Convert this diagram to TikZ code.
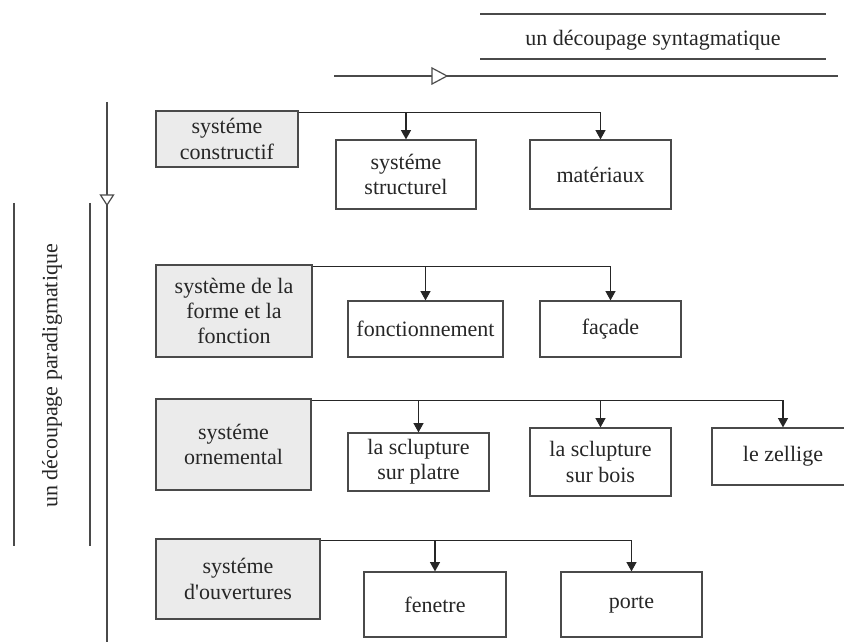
\documentclass[tikz,border=0pt]{standalone}
\usepackage{fontspec}
\setmainfont{Liberation Serif}
\usetikzlibrary{arrows.meta}
\definecolor{linegray}{HTML}{4A4A4A}
\definecolor{boxgray}{HTML}{EBEBEB}
\tikzset{
  sysbox/.style={draw=linegray, fill=boxgray, align=center, inner sep=0pt, line width=0.9pt},
  subbox/.style={draw=linegray, fill=white, align=center, inner sep=0pt, line width=0.9pt},
  link/.style={draw=black!85, line width=0.9pt, -{Triangle[length=7pt,width=7.5pt]}},
  axis/.style={draw=linegray, line width=0.9pt},
}
\begin{document}
\begin{tikzpicture}[x=0.75pt, y=-0.75pt, font=\fontsize{16.5}{19}\selectfont, text=black!85]
\useasboundingbox (0,0) rectangle (844,642);
\clip (0,0) rectangle (844,642);
% syntagmatic axis
\draw[axis] (480,14) -- (826,14);
\draw[axis] (480,59) -- (826,59);
\node (synt) at (653,40) {un découpage syntagmatique};
\draw[axis] (334,76) -- (838,76);
\draw[axis, fill=white] (432,68) -- (447,76) -- (432,84) -- cycle;
% paradigmatic axis
\draw[axis] (107,102) -- (107,642);
\draw[axis, fill=white] (100.5,195) -- (113.5,195) -- (107,205) -- cycle;
\draw[axis] (14,203) -- (14,546);
\draw[axis] (90,203) -- (90,546);
\node[rotate=90] (para) at (52,376) {un découpage paradigmatique};
% systems
\node[sysbox, minimum width=106.5pt, minimum height=42pt] (con) at (227,139) {systéme\\constructif};
\node[sysbox, minimum width=117pt, minimum height=69pt] (forme) at (234,311) {système de la\\forme et la\\fonction};
\node[sysbox, minimum width=116.25pt, minimum height=68.25pt] (orne) at (233.5,444.5) {systéme\\ornemental};
\node[sysbox, minimum width=123pt, minimum height=60pt] (ouv) at (238,579) {systéme\\d\textquotesingle ouvertures};
% sub-systems
\node[subbox, minimum width=105pt, minimum height=51.75pt] (struct) at (406,174.5) {systéme\\structurel};
\node[subbox, minimum width=105.75pt, minimum height=51.75pt] (mat) at (600.5,174.5) {matériaux};
\node[subbox, minimum width=116.25pt, minimum height=42pt] (fonc) at (425.5,329) {fonctionnement};
\node[subbox, minimum width=105.75pt, minimum height=42pt] (fac) at (610.5,329) {façade};
\node[subbox, minimum width=105.75pt, minimum height=43.5pt] (platre) at (418.5,462) {la sclupture\\sur platre};
\node[subbox, minimum width=105.75pt, minimum height=51pt] (bois) at (600.5,462) {la sclupture\\sur bois};
\node[subbox, minimum width=106.5pt, minimum height=42.75pt] (zel) at (783,456.5) {le zellige};
\node[subbox, minimum width=106.5pt, minimum height=48.75pt] (fen) at (435,604.5) {fenetre};
\node[subbox, minimum width=105.75pt, minimum height=48.75pt] (porte) at (631.5,604.5) {porte};
% connectors
\foreach \s/\t in {con/struct, con/mat, forme/fonc, forme/fac, orne/platre, orne/bois, orne/zel, ouv/fen, ouv/porte}
  \draw[link] ([yshift=-1.5pt]\s.north east) -| (\t.north);
\end{tikzpicture}
\end{document}
